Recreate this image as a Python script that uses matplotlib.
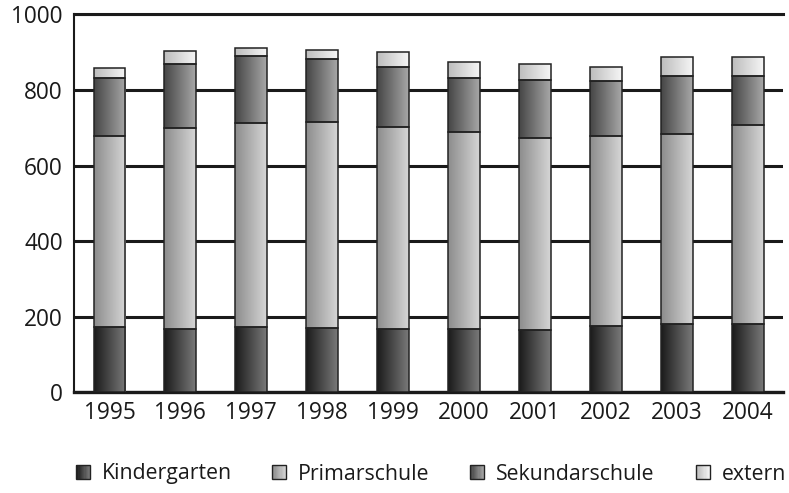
import numpy as np
import matplotlib
matplotlib.use("Agg")
from matplotlib import pyplot as plt
from matplotlib.patches import Rectangle, Patch
from matplotlib.legend_handler import HandlerBase
from matplotlib.colors import LinearSegmentedColormap

plt.rcParams['font.family'] = ['Open Sans', 'DejaVu Sans']

years = ['1995', '1996', '1997', '1998', '1999', '2000', '2001', '2002', '2003', '2004']
kindergarten = [173, 167, 173, 170, 169, 168, 165, 175, 181, 181]
primarschule = [505, 532, 539, 545, 533, 522, 509, 504, 503, 526]
sekundarschule = [155, 171, 177, 168, 159, 141, 153, 144, 152, 129]
extern = [25, 33, 22, 24, 39, 42, 41, 39, 51, 51]

series = [
    ('Kindergarten', kindergarten, ('#1a1a1a', '#7a7a7a')),
    ('Primarschule', primarschule, ('#8c8c8c', '#d6d6d6')),
    ('Sekundarschule', sekundarschule, ('#454545', '#a8a8a8')),
    ('extern', extern, ('#bcbcbc', '#f6f6f6')),
]
edge = '#222222'


class GradientHandler(HandlerBase):
    """ draws a small horizontal-gradient square as legend key """
    def __init__(self, c0, c1):
        super().__init__()
        self.cmap = LinearSegmentedColormap.from_list('g', [c0, c1])

    def create_artists(self, legend, orig_handle, xdescent, ydescent,
                       width, height, fontsize, trans):
        n = 12
        arts = []
        for i in range(n):
            r = Rectangle((-xdescent + i * width / n, -ydescent), width / n, height,
                          facecolor=self.cmap(i / (n - 1)), edgecolor='none',
                          transform=trans)
            arts.append(r)
        arts.append(Rectangle((-xdescent, -ydescent), width, height, facecolor='none',
                              edgecolor=edge, lw=1.0, transform=trans))
        return arts


fig = plt.figure(figsize=(7.89, 4.93), dpi=100)
ax = fig.add_axes([0.0938, 0.2039, 0.8986, 0.7667])

x = np.arange(len(years))
bottom = np.zeros(len(years))
grad = np.linspace(0, 1, 256).reshape(1, -1)
for name, vals, (c0, c1) in series:
    bars = ax.bar(x, vals, 0.45, bottom=bottom, facecolor='none',
                  edgecolor=edge, linewidth=1.1, zorder=4)
    cmap = LinearSegmentedColormap.from_list(name, [c0, c1])
    for b in bars:
        x0, y0 = b.get_x(), b.get_y()
        im = ax.imshow(grad, extent=[x0, x0 + b.get_width(), y0, y0 + b.get_height()],
                       aspect='auto', cmap=cmap, interpolation='bilinear', zorder=3)
        im.set_clip_path(b)
    bottom += np.array(vals)

ax.set_xlim(-0.5, len(years) - 0.5)
ax.set_ylim(0, 1000)
ax.set_yticks([0, 200, 400, 600, 800, 1000])
ax.set_xticks(x)
ax.set_xticklabels(years)
ax.tick_params(length=0, labelsize=16.3, pad=6, colors='#1a1a1a')
ax.tick_params(axis='y', pad=8)

ax.yaxis.grid(True, color='#1a1a1a', linewidth=2.2)
ax.set_axisbelow(True)
ax.spines['right'].set_visible(False)
ax.spines['top'].set_linewidth(2.2)
ax.spines['top'].set_color('#1a1a1a')
ax.spines['bottom'].set_linewidth(2.4)
ax.spines['bottom'].set_color('#1a1a1a')
ax.spines['left'].set_linewidth(1.5)
ax.spines['left'].set_color('#1a1a1a')

# legend entries sit at their own positions along the bottom
legend_x = [76, 272, 470, 696]
for (name, vals, (c0, c1)), lx in zip(series, legend_x):
    h = Patch(label=name)
    fig.legend(handles=[h], handler_map={h: GradientHandler(c0, c1)},
               loc='center left', bbox_to_anchor=(lx / 789, 1 - 474 / 493),
               frameon=False, fontsize=15.3, handlelength=0.68, handleheight=0.68,
               handletextpad=0.55, borderpad=0, borderaxespad=0,
               labelcolor='#1a1a1a')

fig.savefig('out.png', dpi=100)
